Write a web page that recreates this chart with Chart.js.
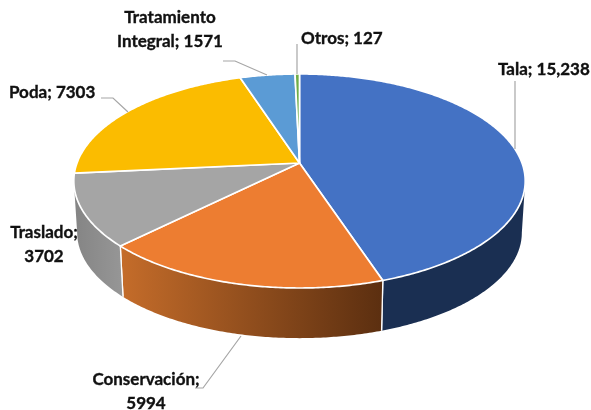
<!DOCTYPE html>
<html>
<head>
<meta charset="utf-8">
<style>
  html, body { margin: 0; padding: 0; background: #fff; }
  canvas { display: block; }
</style>
<script src="https://cdn.jsdelivr.net/npm/chart.js"></script>
</head>
<body>
<canvas id="pie3d" width="591" height="410"></canvas>
<script>
const categories = ["Tala", "Conservación", "Traslado", "Poda", "Tratamiento Integral", "Otros"];
const values = [15238, 5994, 3702, 7303, 1571, 127];
const valueLabels = ["15,238", "5994", "3702", "7303", "1571", "127"];

const topColors = ["#4472C4", "#ED7D31", "#A5A5A5", "#FBBC00", "#5B9BD5", "#70AD47"];

// perspective of the top face, worked out from the ellipse in the picture
const apexX = 299.5, apexY = 163, radX = 222.5, radY = 104, persp = 0.168;
// the lower rim is the same shape, shrunk a bit and pushed down
const lowerScale = 0.985, lowerY = 215;

function project(angle, lower) {
  const u = Math.cos(angle), v = Math.sin(angle);
  const f = 1 / (1 - persp * v);
  const s = lower ? lowerScale : 1;
  return {
    x: apexX + radX * u * f * s,
    y: (lower ? lowerY : apexY) + radY * v * f * s
  };
}

function traceRim(ctx, from, to, lower, moveFirst) {
  const steps = Math.max(2, Math.ceil(Math.abs(to - from) / 0.01));
  for (let i = 0; i <= steps; i++) {
    const p = project(from + (to - from) * i / steps, lower);
    if (i === 0 && moveFirst) ctx.moveTo(p.x, p.y);
    else ctx.lineTo(p.x, p.y);
  }
}

function wallFill(ctx, i) {
  if (i === 0) return "#1A2F52";
  if (i === 1) {
    const g = ctx.createLinearGradient(122, 0, 381, 0);
    g.addColorStop(0, "#C46C2A");
    g.addColorStop(1, "#5C2F10");
    return g;
  }
  if (i === 2) {
    const g = ctx.createLinearGradient(76, 0, 124, 0);
    g.addColorStop(0, "#858585");
    g.addColorStop(1, "#979797");
    return g;
  }
  return topColors[i];
}

const pie3dPlugin = {
  id: "pie3d",
  beforeDatasetsDraw(chart) {
    const ctx = chart.ctx;
    const arcs = chart.getDatasetMeta(0).data;
    // only the front of the rim shows, from one tangent point to the other
    const rimStart = -Math.asin(-persp), rimEnd = Math.PI - rimStart;
    ctx.save();
    ctx.lineJoin = "round";

    arcs.forEach((arc, i) => {
      const a0 = arc.startAngle, a1 = arc.endAngle;
      const from = Math.max(a0, rimStart), to = Math.min(a1, rimEnd);
      if (to <= from) return;
      ctx.beginPath();
      traceRim(ctx, from, to, false, true);
      traceRim(ctx, to, from, true, false);
      ctx.closePath();
      ctx.fillStyle = wallFill(ctx, i);
      ctx.fill();
      ctx.strokeStyle = "#fff";
      ctx.lineWidth = 1.3;
      ctx.beginPath();
      if (a0 >= rimStart && a0 <= rimEnd) {
        const p = project(a0, false), q = project(a0, true);
        ctx.moveTo(p.x, p.y); ctx.lineTo(q.x, q.y);
      }
      if (a1 >= rimStart && a1 <= rimEnd) {
        const p = project(a1, false), q = project(a1, true);
        ctx.moveTo(p.x, p.y); ctx.lineTo(q.x, q.y);
      }
      ctx.stroke();
    });

    arcs.forEach((arc, i) => {
      ctx.beginPath();
      ctx.moveTo(apexX, apexY);
      traceRim(ctx, arc.startAngle, arc.endAngle, false, false);
      ctx.closePath();
      ctx.fillStyle = topColors[i];
      ctx.fill();
      ctx.strokeStyle = "#fff";
      ctx.lineWidth = 1.7;
      ctx.stroke();
    });

    ctx.restore();
    return false;
  },
  afterDraw(chart) {
    const ctx = chart.ctx;
    ctx.save();

    ctx.strokeStyle = "#A6A6A6";
    ctx.lineWidth = 1.2;
    leaderLines.forEach(pts => {
      ctx.beginPath();
      pts.forEach((p, i) => (i ? ctx.lineTo(p[0], p[1]) : ctx.moveTo(p[0], p[1])));
      ctx.stroke();
    });

    // Calibri is not installed, Lato is the nearest. A thin stroke brings the weight up
    ctx.fillStyle = "#111";
    ctx.strokeStyle = "#111";
    ctx.lineWidth = 0.35;
    ctx.font = "bold 17px Lato";
    ctx.textBaseline = "middle";
    labelLayout.forEach(row => {
      const i = row.index;
      const full = categories[i] + "; " + valueLabels[i];
      const lines = row.split ? splitLabel(full, row.split) : [full];
      lines.forEach((text, n) => {
        ctx.textAlign = row.align;
        ctx.fillText(text, row.x, row.y + n * 24);
        ctx.strokeText(text, row.x, row.y + n * 24);
      });
    });
    ctx.restore();
  }
};

function splitLabel(full, at) {
  const cut = full.indexOf(at) + at.length;
  return [full.slice(0, cut).trim(), full.slice(cut).trim()];
}

const labelLayout = [
  { index: 0, x: 498, y: 70, align: "left" },
  { index: 1, x: 146, y: 380, align: "center", split: "Conservación;" },
  { index: 2, x: 44, y: 233, align: "center", split: "Traslado;" },
  { index: 3, x: 9, y: 93, align: "left" },
  { index: 4, x: 170, y: 18, align: "center", split: "Tratamiento" },
  { index: 5, x: 301, y: 39, align: "left" }
];

const leaderLines = [
  [[515, 81], [515, 149]],
  [[241, 336], [203, 388], [195, 388]],
  [[101, 98], [113, 98], [128, 112]],
  [[223, 61], [235, 61], [267, 75]],
  [[297, 44], [297, 74]]
];

new Chart(document.getElementById("pie3d"), {
  type: "pie",
  data: {
    labels: categories,
    datasets: [{ data: values, backgroundColor: topColors, borderColor: "#fff" }]
  },
  options: {
    responsive: false,
    animation: false,
    plugins: { legend: { display: false }, tooltip: { enabled: false } }
  },
  plugins: [pie3dPlugin]
});
</script>
</body>
</html>
